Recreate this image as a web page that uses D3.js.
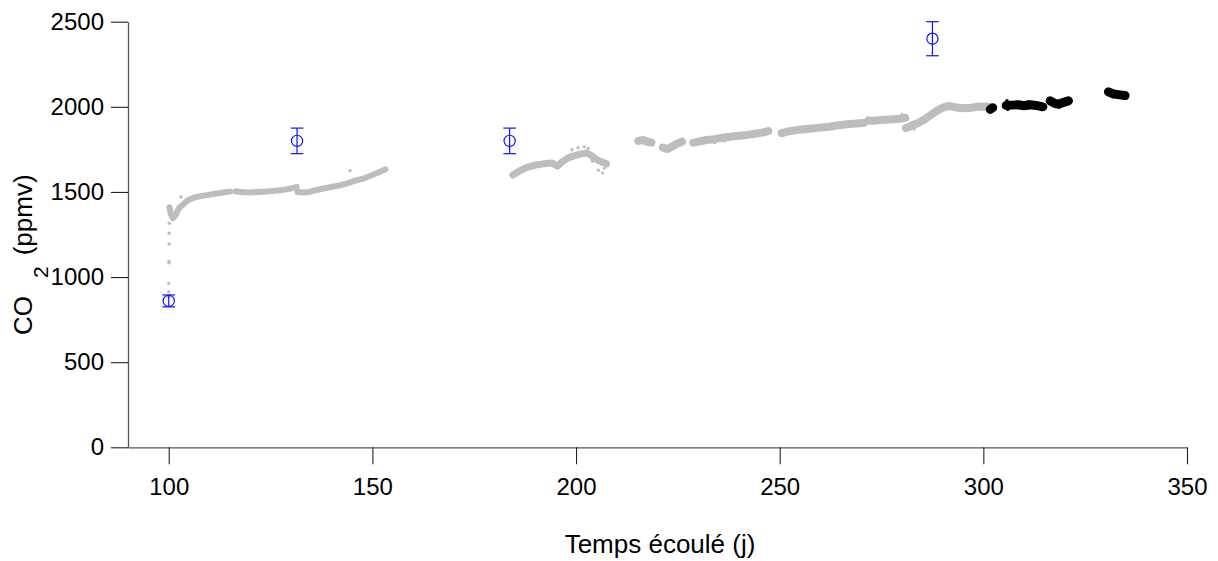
<!DOCTYPE html>
<html>
<head>
<meta charset="utf-8">
<script src="https://cdn.jsdelivr.net/npm/d3@7/dist/d3.min.js"></script>
<style>
  html, body { margin: 0; padding: 0; background: #fff; }
  svg { display: block; font-family: "Liberation Sans", Arial, Helvetica, sans-serif; }
</style>
</head>
<body>
<svg id="chart" width="1218" height="561"></svg>
<script>
// ---------- data (day, CO2 ppmv) ----------
const xTicks = [100, 150, 200, 250, 300, 350];
const yTicks = [0, 500, 1000, 1500, 2000, 2500];

// sparse points of the initial rise (grey)
const greyRiseDots = [[100, 885], [100, 914], [100, 963], [100.05, 1084], [100.05, 1092],
  [100.1, 1194], [100.1, 1257], [100.15, 1316]];

// continuous grey measurement segments
const greySeg1 = [[100.2, 1410], [100.5, 1370], [101, 1345], [101.6, 1360], [102.5, 1405], [103.5, 1425],
  [104.5, 1448], [106, 1465], [107.5, 1474], [109, 1480], [111, 1488], [113, 1495], [115, 1502]];
const greySeg2 = [[116.3, 1503], [118, 1500], [120, 1497], [122, 1500], [124, 1503], [126, 1507],
  [128, 1512], [130, 1520], [131.4, 1530]];
const greySeg3 = [[131.6, 1500], [133, 1497], [134.5, 1500], [136, 1510], [138, 1520], [140, 1530],
  [142, 1538], [144, 1552], [146, 1568], [148, 1580], [150, 1600], [152, 1620], [153.2, 1633]];
const greySeg4 = [[184.5, 1600], [186, 1622], [188, 1645], [190, 1658], [192, 1665], [194, 1670],
  [195.5, 1652], [196.5, 1675], [198, 1700], [199.5, 1712], [201, 1722], [202.5, 1728], [203.5, 1718],
  [204.5, 1700], [205.5, 1685], [206.5, 1675], [207.5, 1665]];
const greySeg5 = [[215.3, 1800], [216.5, 1805], [217.5, 1795], [218.5, 1790]];
const greySeg6 = [[221.3, 1760], [222.5, 1752], [223.5, 1765], [224.5, 1780], [226, 1795]];
const greySeg7 = [[228.8, 1790], [230, 1795], [232, 1805], [234, 1810], [236, 1818], [238, 1825],
  [240, 1830], [242, 1835], [244, 1842], [246, 1850], [247.2, 1858]];
const greySeg8 = [[250.5, 1845], [252, 1855], [254, 1863], [256, 1868], [258, 1872], [260, 1878],
  [262, 1882], [264, 1890], [266, 1896], [268, 1900], [270.6, 1905]];
const greySeg9 = [[271.8, 1920], [273, 1918], [275, 1922], [277, 1925], [279, 1928], [280.8, 1935]];
const greySeg10 = [[281, 1875], [282.5, 1890], [284, 1905], [285.5, 1925], [287, 1950], [288.5, 1975],
  [290, 1995], [291.5, 2005], [293, 1998], [295, 1992], [297, 1995], [299, 2002], [301.3, 2000]];
const greyOutliers = [[144.5, 1625], [199, 1748], [200.5, 1760], [202, 1765], [203, 1755], [206.5, 1612],
  [205.5, 1628], [207, 1640], [204, 1680], [103, 1470], [234, 1790], [236.5, 1800], [280, 1955], [283, 1870]];

// black measurement segments
const blackSeg1 = [[301.7, 1985], [302.3, 1995]];
const blackSeg2 = [[305.6, 2008], [307, 2010], [308.5, 2012], [310, 2006], [311.5, 2012], [313, 2008], [314.6, 2000]];
const blackSeg3 = [[316.4, 2035], [317.5, 2020], [318.5, 2015], [319.5, 2025], [320.9, 2035]];
const blackSeg4 = [[330.7, 2088], [332, 2075], [333.5, 2070], [334.8, 2066]];
const blackOutliers = [[305.8, 2035], [306, 1985], [311, 2030], [333.8, 2055], [302, 1975]];

// blue reference samples with uncertainty
const sampleDays = [100, 131.5, 183.7, 287.5];
const sampleValues = [860, 1800, 1800, 2400];
const sampleErrors = [35, 75, 75, 100];

// ---------- chart ----------
const svg = d3.select("#chart");
const x = d3.scaleLinear().domain([90, 350]).range([128, 1187]);
const y = d3.scaleLinear().domain([0, 2500]).range([447.3, 21.7]);

const greyColor = "#bdbdbd";
const line = d3.line().x(d => x(d[0])).y(d => y(d[1])).curve(d3.curveLinear);

function drawSeg(data, color, width) {
  svg.append("path").datum(data)
    .attr("d", line).attr("fill", "none").attr("stroke", color)
    .attr("stroke-width", width).attr("stroke-linecap", "round").attr("stroke-linejoin", "round");
}
[greySeg1, greySeg2, greySeg3].forEach(s => drawSeg(s, greyColor, 6));
drawSeg(greySeg4, greyColor, 7);
[greySeg5, greySeg6, greySeg7, greySeg8, greySeg9, greySeg10].forEach(s => drawSeg(s, greyColor, 8));
svg.append("g").selectAll("circle").data(greyRiseDots.concat(greyOutliers)).join("circle")
  .attr("cx", d => x(d[0])).attr("cy", d => y(d[1])).attr("r", 1.7).attr("fill", greyColor);

[blackSeg1, blackSeg2, blackSeg3, blackSeg4].forEach(s => drawSeg(s, "#000", 9));
svg.append("g").selectAll("circle").data(blackOutliers).join("circle")
  .attr("cx", d => x(d[0])).attr("cy", d => y(d[1])).attr("r", 1.8).attr("fill", "#000");

// axes
const fmt = d3.format("d");
const gx = svg.append("g").attr("transform", `translate(0,${y(0)})`)
  .call(d3.axisBottom(x).tickValues(xTicks).tickFormat(fmt).tickSize(17).tickSizeOuter(0).tickPadding(14));
const gy = svg.append("g").attr("transform", `translate(${x(90)},0)`)
  .call(d3.axisLeft(y).tickValues(yTicks).tickFormat(fmt).tickSize(17).tickSizeOuter(0).tickPadding(7));
[gx, gy].forEach(g => {
  g.select(".domain").attr("stroke", "#555").attr("stroke-width", 1.3);
  g.selectAll(".tick line").attr("stroke", "#222").attr("stroke-width", 1.1);
  g.selectAll(".tick text").attr("fill", "#000")
    .style("font-size", "24px").style("font-family", "'Liberation Sans', Arial, sans-serif");
});

// blue samples with error bars
const samples = sampleDays.map((d, i) => ({ d, v: sampleValues[i], e: sampleErrors[i] }));
const blue = "#1010ff";
const sg = svg.append("g").selectAll("g").data(samples).join("g");
sg.append("line").attr("x1", s => x(s.d)).attr("x2", s => x(s.d))
  .attr("y1", s => y(s.v + s.e)).attr("y2", s => y(s.v - s.e)).attr("stroke", blue).attr("stroke-width", 1.2);
sg.append("line").attr("x1", s => x(s.d) - 6.3).attr("x2", s => x(s.d) + 6.3)
  .attr("y1", s => y(s.v + s.e)).attr("y2", s => y(s.v + s.e)).attr("stroke", blue).attr("stroke-width", 1.2);
sg.append("line").attr("x1", s => x(s.d) - 6.3).attr("x2", s => x(s.d) + 6.3)
  .attr("y1", s => y(s.v - s.e)).attr("y2", s => y(s.v - s.e)).attr("stroke", blue).attr("stroke-width", 1.2);
sg.append("circle").attr("cx", s => x(s.d)).attr("cy", s => y(s.v)).attr("r", 5.6)
  .attr("fill", "none").attr("stroke", blue).attr("stroke-width", 1.2);

// axis titles
svg.append("text").attr("x", 660).attr("y", 553).attr("text-anchor", "middle")
  .style("font-size", "26px").attr("fill", "#000").text("Temps écoulé (j)");

const yt = svg.append("text").attr("transform", "translate(32,335) rotate(-90)")
  .style("font-size", "26px").attr("fill", "#000");
yt.append("tspan").text("CO");
yt.append("tspan").attr("dx", 18).attr("dy", 16).style("font-size", "21px").text("2");
yt.append("tspan").attr("dx", 11).attr("dy", -16).text("(ppmv)");
</script>
</body>
</html>
